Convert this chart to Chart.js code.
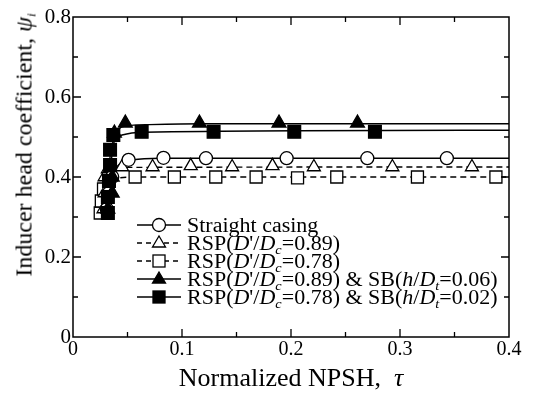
<!DOCTYPE html>
<html>
<head>
<meta charset="utf-8">
<script src="https://cdn.jsdelivr.net/npm/chart.js@4"></script>
<style>
  html, body { margin: 0; padding: 0; background: #fff; }
  #wrap { position: relative; width: 534px; height: 396px; font-family: 'Liberation Serif', 'DejaVu Serif', serif; color: #000; }
  #chart { position: absolute; left: 0; top: 0; }
  #ytitle { position: absolute; left: 24px; top: 145px; transform: translate(-50%, -50%) rotate(-90deg); white-space: nowrap; font-size: 24px; }
  #xtitle { position: absolute; left: 291px; top: 378px; transform: translate(-50%, -50%) scaleX(1.04); white-space: nowrap; font-size: 25px; }
  #legend { position: absolute; left: 136px; top: 216px; font-size: 20px; line-height: 18px; }
  .row { display: flex; align-items: center; height: 18px; white-space: nowrap; }
  .row svg { margin-right: 5px; }
  .row span { display: inline-block; transform: scaleX(1.1); transform-origin: left center; }
  sub { font-size: 13px; vertical-align: -4px; line-height: 0; font-style: italic; }
</style>
</head>
<body>
<div id="wrap">
  <canvas id="chart" width="534" height="396"></canvas>
  <div id="ytitle">Inducer head coefficient, <i>ψ</i><sub>i</sub></div>
  <div id="xtitle">Normalized NPSH, &nbsp;<i>τ</i></div>
  <div id="legend"></div>
</div>
<script>
// Axis ticks
const xTicks = [0, 0.1, 0.2, 0.3, 0.4];
const yTicks = [0, 0.2, 0.4, 0.6, 0.8];

// Straight casing (open circles)
const scX = [0.031, 0.033, 0.036, 0.051, 0.083, 0.122, 0.196, 0.270, 0.343];
const scY = [0.32, 0.36, 0.40, 0.443, 0.448, 0.447, 0.447, 0.447, 0.447];
const scLineX = [0.030, 0.032, 0.036, 0.043, 0.055, 0.08, 0.4];
const scLineY = [0.31, 0.36, 0.405, 0.433, 0.443, 0.447, 0.447];

// RSP(D'/Dc=0.89) (open triangles)
const r89X = [0.028, 0.029, 0.029, 0.032, 0.045, 0.073, 0.108, 0.146, 0.183, 0.221, 0.293, 0.366];
const r89Y = [0.32, 0.36, 0.40, 0.42, 0.425, 0.425, 0.428, 0.425, 0.428, 0.425, 0.425, 0.425];
const r89LineX = [0.028, 0.029, 0.031, 0.036, 0.05, 0.4];
const r89LineY = [0.31, 0.36, 0.40, 0.417, 0.424, 0.425];

// RSP(D'/Dc=0.78) (open squares)
const r78X = [0.025, 0.026, 0.028, 0.057, 0.093, 0.131, 0.168, 0.206, 0.242, 0.316, 0.388];
const r78Y = [0.31, 0.34, 0.37, 0.40, 0.40, 0.40, 0.40, 0.398, 0.40, 0.40, 0.40];
const r78LineX = [0.025, 0.027, 0.031, 0.04, 0.06, 0.4];
const r78LineY = [0.30, 0.35, 0.385, 0.397, 0.400, 0.400];

// RSP(D'/Dc=0.89) & SB(h/Dt=0.06) (filled triangles)
const sb06X = [0.032, 0.036, 0.036, 0.038, 0.048, 0.116, 0.189, 0.261];
const sb06Y = [0.32, 0.36, 0.40, 0.51, 0.535, 0.535, 0.535, 0.535];
const sb06LineX = [0.031, 0.033, 0.036, 0.040, 0.048, 0.07, 0.12, 0.4];
const sb06LineY = [0.31, 0.38, 0.46, 0.51, 0.527, 0.531, 0.533, 0.533];

// RSP(D'/Dc=0.78) & SB(h/Dt=0.02) (filled squares)
const sb02X = [0.032, 0.032, 0.033, 0.034, 0.034, 0.037, 0.063, 0.129, 0.203, 0.277];
const sb02Y = [0.31, 0.35, 0.39, 0.43, 0.468, 0.505, 0.513, 0.513, 0.513, 0.513];
const sb02LineX = [0.031, 0.032, 0.034, 0.037, 0.045, 0.065, 0.4];
const sb02LineY = [0.30, 0.38, 0.45, 0.49, 0.505, 0.512, 0.517];

const FONT = "'Liberation Serif', 'DejaVu Serif', serif";
const toPts = (xs, ys) => xs.map((x, i) => ({ x: x, y: ys[i] }));

function markerSet(xs, ys, style, radius, filled) {
    return {
        data: toPts(xs, ys),
        showLine: false,
        pointStyle: style,
        pointRadius: radius,
        pointHoverRadius: radius,
        pointBorderWidth: 1.3,
        pointBorderColor: '#000',
        pointBackgroundColor: filled ? '#000' : '#fff',
        order: 0,
    };
}

function lineSet(xs, ys, dashed) {
    return {
        data: toPts(xs, ys),
        showLine: true,
        pointRadius: 0,
        borderColor: '#000',
        borderWidth: 1.4,
        borderDash: dashed ? [6, 4] : [],
        cubicInterpolationMode: 'monotone',
        fill: false,
        order: 1,
    };
}

const datasets = [
    markerSet(sb02X, sb02Y, 'rect', 9, true),
    markerSet(sb06X, sb06Y, 'triangle', 8, true),
    markerSet(scX, scY, 'circle', 6.5, false),
    markerSet(r89X, r89Y, 'triangle', 7.5, false),
    markerSet(r78X, r78Y, 'rect', 8.5, false),
    lineSet(scLineX, scLineY, false),
    lineSet(r89LineX, r89LineY, true),
    lineSet(r78LineX, r78LineY, true),
    lineSet(sb06LineX, sb06LineY, false),
    lineSet(sb02LineX, sb02LineY, false),
];

// inward tick marks on all four sides plus the frame
const frameTicks = {
    id: 'frameTicks',
    afterDraw(chart) {
        const { ctx, chartArea: a, scales } = chart;
        ctx.save();
        ctx.strokeStyle = '#000';
        ctx.lineWidth = 1.5;
        ctx.strokeRect(a.left, a.top, a.right - a.left, a.bottom - a.top);
        ctx.lineWidth = 1.3;
        for (let k = 1; k < 8; k++) {
            const v = k * 0.05;
            const px = scales.x.getPixelForValue(v);
            const len = k % 2 === 0 ? 8 : 5;
            ctx.beginPath();
            ctx.moveTo(px, a.bottom); ctx.lineTo(px, a.bottom - len);
            ctx.moveTo(px, a.top); ctx.lineTo(px, a.top + len);
            ctx.stroke();
        }
        for (let k = 1; k < 8; k++) {
            const v = k * 0.1;
            const py = scales.y.getPixelForValue(v);
            const len = k % 2 === 0 ? 8 : 5;
            ctx.beginPath();
            ctx.moveTo(a.left, py); ctx.lineTo(a.left + len, py);
            ctx.moveTo(a.right, py); ctx.lineTo(a.right - len, py);
            ctx.stroke();
        }
        ctx.restore();
    }
};

new Chart(document.getElementById('chart'), {
    type: 'scatter',
    data: { datasets },
    options: {
        responsive: false,
        animation: false,
        devicePixelRatio: 1,
        layout: { padding: { left: 0, right: 25, top: 17, bottom: 0 } },
        plugins: { legend: { display: false }, tooltip: { enabled: false } },
        scales: {
            x: {
                type: 'linear', min: 0, max: 0.4,
                afterFit: (s) => { s.height = 59; },
                afterBuildTicks: (s) => { s.ticks = xTicks.map(v => ({ value: v })); },
                grid: { display: false, drawTicks: false },
                border: { display: false },
                ticks: {
                    padding: 1, color: '#000', font: { family: FONT, size: 20 },
                    callback: (v) => v === 0 ? '0' : v.toFixed(1),
                },
            },
            y: {
                type: 'linear', min: 0, max: 0.8,
                afterFit: (s) => { s.width = 73; },
                afterBuildTicks: (s) => { s.ticks = yTicks.map(v => ({ value: v })); },
                grid: { display: false, drawTicks: false },
                border: { display: false },
                ticks: {
                    padding: 2, color: '#000', font: { family: FONT, size: 21 },
                    callback: (v) => v === 0 ? '0' : v.toFixed(1),
                },
            },
        },
    },
    plugins: [frameTicks],
});

// legend rows (HTML so the italic and subscript parts stay real text)
const legendRows = [
    { shape: 'circle', filled: false, dashed: false, html: 'Straight casing' },
    { shape: 'triangle', filled: false, dashed: true, html: "RSP(<i>D</i>'/<i>D</i><sub>c</sub>=0.89)" },
    { shape: 'rect', filled: false, dashed: true, html: "RSP(<i>D</i>'/<i>D</i><sub>c</sub>=0.78)" },
    { shape: 'triangle', filled: true, dashed: false, html: "RSP(<i>D</i>'/<i>D</i><sub>c</sub>=0.89) &amp; SB(<i>h</i>/<i>D</i><sub>t</sub>=0.06)" },
    { shape: 'rect', filled: true, dashed: false, html: "RSP(<i>D</i>'/<i>D</i><sub>c</sub>=0.78) &amp; SB(<i>h</i>/<i>D</i><sub>t</sub>=0.02)" },
];

function sampleSvg(r) {
    const fill = r.filled ? '#000' : '#fff';
    let mark = '';
    if (r.shape === 'circle') mark = `<circle cx="23" cy="9" r="6.5" fill="${fill}" stroke="#000" stroke-width="1.3"/>`;
    if (r.shape === 'triangle') mark = `<polygon points="23,2 29.5,13 16.5,13" fill="${fill}" stroke="#000" stroke-width="1.3"/>`;
    if (r.shape === 'rect') mark = `<rect x="17" y="3" width="12" height="12" fill="${fill}" stroke="#000" stroke-width="1.3"/>`;
    const dash = r.dashed ? 'stroke-dasharray="5,4"' : '';
    return `<svg width="46" height="18" viewBox="0 0 46 18"><line x1="1" y1="9" x2="45" y2="9" stroke="#000" stroke-width="1.4" ${dash}/>${mark}</svg>`;
}

document.getElementById('legend').innerHTML = legendRows.map(r =>
    `<div class="row">${sampleSvg(r)}<span>${r.html}</span></div>`
).join('');
</script>
</body>
</html>
